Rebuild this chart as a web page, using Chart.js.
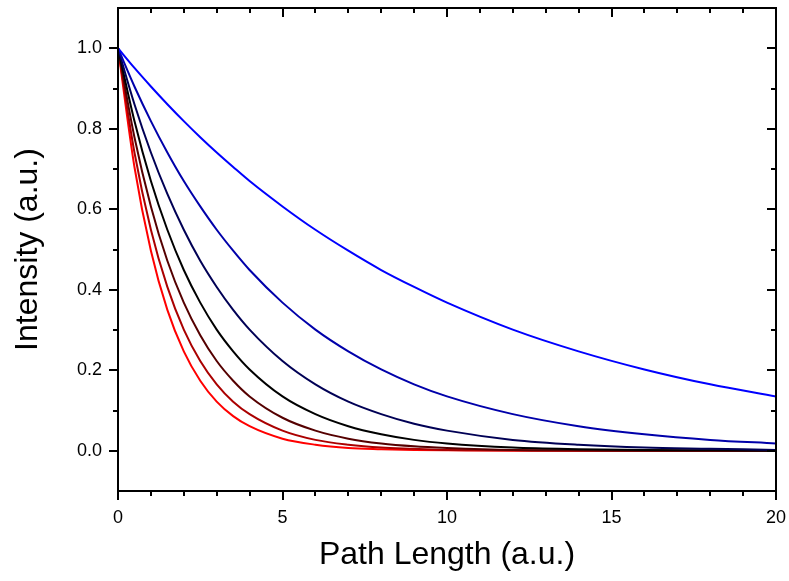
<!DOCTYPE html>
<html lang="en">
<head>
    <meta charset="UTF-8">
    <title>Intensity vs Path Length</title>
    <script src="https://cdn.jsdelivr.net/npm/chart.js"></script>
    <style>
        html, body { margin: 0; padding: 0; background: #fff; }
    </style>
</head>
<body>
    <div style="width: 789px; height: 581px;">
        <canvas id="decayChart"></canvas>
    </div>
    <script>
        // path length samples (a.u.)
        const pathLength = [0, 0.5, 1, 1.5, 2, 2.5, 3, 3.5, 4, 5, 6, 7, 8, 9, 10, 12, 14, 16, 18, 20];

        // intensity, top (blue) to bottom (red)
        const curve1 = [1, 0.951, 0.905, 0.861, 0.819, 0.779, 0.741, 0.705, 0.670, 0.607, 0.549, 0.497, 0.449, 0.407, 0.368, 0.301, 0.247, 0.202, 0.165, 0.135];
        const curve2 = [1, 0.905, 0.819, 0.741, 0.670, 0.607, 0.549, 0.497, 0.449, 0.368, 0.301, 0.247, 0.202, 0.165, 0.135, 0.091, 0.061, 0.041, 0.027, 0.018];
        const curve3 = [1, 0.861, 0.741, 0.638, 0.549, 0.472, 0.407, 0.350, 0.301, 0.223, 0.165, 0.122, 0.091, 0.067, 0.050, 0.027, 0.015, 0.008, 0.005, 0.002];
        const curve4 = [1, 0.819, 0.670, 0.549, 0.449, 0.368, 0.301, 0.247, 0.202, 0.135, 0.091, 0.061, 0.041, 0.027, 0.018, 0.008, 0.004, 0.002, 0.001, 0.000];
        const curve5 = [1, 0.779, 0.607, 0.472, 0.368, 0.287, 0.223, 0.174, 0.135, 0.082, 0.050, 0.030, 0.018, 0.011, 0.007, 0.002, 0.001, 0.000, 0.000, 0.000];
        const curve6 = [1, 0.741, 0.549, 0.407, 0.301, 0.223, 0.165, 0.122, 0.091, 0.050, 0.027, 0.015, 0.008, 0.005, 0.002, 0.001, 0.000, 0.000, 0.000, 0.000];
        const curve7 = [1, 0.705, 0.497, 0.350, 0.247, 0.174, 0.122, 0.086, 0.061, 0.030, 0.015, 0.007, 0.004, 0.002, 0.001, 0.000, 0.000, 0.000, 0.000, 0.000];

        const curves = [curve1, curve2, curve3, curve4, curve5, curve6, curve7];
        const curveColors = ['#0000ff', '#0000aa', '#000055', '#000000', '#550000', '#aa0000', '#ff0000'];

        // tick values
        const xMajorTicks = [0, 5, 10, 15, 20];
        const xMinorTicks = [1, 2, 3, 4, 6, 7, 8, 9, 11, 12, 13, 14, 16, 17, 18, 19];
        const yMajorTicks = [0, 0.2, 0.4, 0.6, 0.8, 1.0];
        const yMinorTicks = [0.1, 0.3, 0.5, 0.7, 0.9];

        const FONT = 'Arial, "Liberation Sans", sans-serif';

        // draws the box frame and the tick marks (out on left/bottom, in on top/right)
        const frameTicks = {
            id: 'frameTicks',
            afterDraw(chart) {
                const c = chart.ctx;
                const a = chart.chartArea;
                const xs = chart.scales.x, ys = chart.scales.y;
                c.save();
                c.strokeStyle = '#000';
                c.lineWidth = 2;
                c.strokeRect(a.left, a.top, a.right - a.left, a.bottom - a.top);
                c.beginPath();
                const tick = (list, len) => {
                    list.forEach(v => {
                        const px = Math.round(xs.getPixelForValue(v));
                        c.moveTo(px, a.bottom); c.lineTo(px, a.bottom + len);
                        c.moveTo(px, a.top); c.lineTo(px, a.top + len);
                    });
                };
                const ytick = (list, len) => {
                    list.forEach(v => {
                        const py = Math.round(ys.getPixelForValue(v));
                        c.moveTo(a.left, py); c.lineTo(a.left - len, py);
                        c.moveTo(a.right, py); c.lineTo(a.right - len, py);
                    });
                };
                tick(xMajorTicks, 9);
                tick(xMinorTicks, 5);
                ytick(yMajorTicks, 9);
                ytick(yMinorTicks, 5);
                c.stroke();
                c.restore();
            }
        };

        const ctx = document.getElementById('decayChart').getContext('2d');
        const decayChart = new Chart(ctx, {
            type: 'scatter',
            data: {
                datasets: curves.map((vals, i) => ({
                    label: 'curve ' + (i + 1),
                    data: pathLength.map((x, j) => ({ x: x, y: vals[j] })),
                    showLine: true,
                    borderColor: curveColors[i],
                    borderWidth: 2,
                    pointRadius: 0,
                    fill: false,
                    cubicInterpolationMode: 'monotone'
                }))
            },
            options: {
                responsive: true,
                maintainAspectRatio: false,
                animation: false,
                layout: { padding: { left: 0, right: 13, top: 8, bottom: 0 } },
                plugins: {
                    legend: { display: false },
                    tooltip: { enabled: false }
                },
                scales: {
                    x: {
                        type: 'linear',
                        min: 0,
                        max: 20,
                        grid: { display: false, drawTicks: false },
                        border: { display: false },
                        afterBuildTicks: s => { s.ticks = xMajorTicks.map(v => ({ value: v })); },
                        afterFit: s => { s.height = 90; s.paddingLeft = 0; s.paddingRight = 0; },
                        ticks: {
                            color: '#000',
                            padding: 16,
                            maxRotation: 0,
                            font: { family: FONT, size: 18 }
                        },
                        title: {
                            display: true,
                            text: 'Path Length (a.u.)',
                            color: '#000',
                            padding: { top: 0, bottom: 7 },
                            font: { family: FONT, size: 32 }
                        }
                    },
                    y: {
                        min: -0.1,
                        max: 1.1,
                        grid: { display: false, drawTicks: false },
                        border: { display: false },
                        afterBuildTicks: s => { s.ticks = yMajorTicks.map(v => ({ value: v })); },
                        afterFit: s => { s.width = 118; s.paddingTop = 0; s.paddingBottom = 0; },
                        ticks: {
                            color: '#000',
                            padding: 16,
                            font: { family: FONT, size: 18 },
                            callback: v => v.toFixed(1)
                        },
                        title: {
                            display: true,
                            text: 'Intensity (a.u.)',
                            color: '#000',
                            padding: { top: 9, bottom: 0 },
                            font: { family: FONT, size: 32 }
                        }
                    }
                }
            },
            plugins: [frameTicks]
        });
    </script>
</body>
</html>
